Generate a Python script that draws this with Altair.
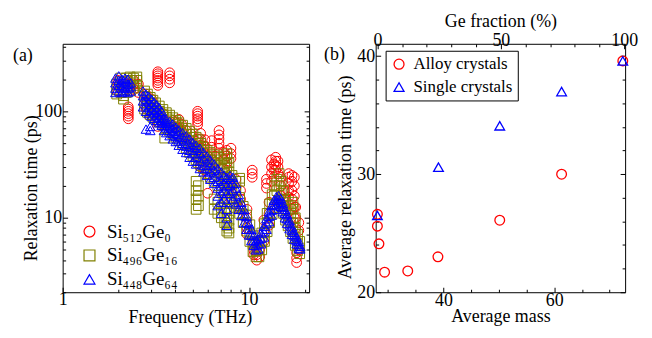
import altair as alt
import pandas as pd

FONT = "Liberation Serif"

# ---------------- Panel (a): relaxation time vs frequency ----------------
series_names = ["Si₅₁₂Ge₀", "Si₄₉₆Ge₁₆", "Si₄₄₈Ge₆₄"]
series_colors = ["#ff0000", "#808000", "#0000ff"]
series_shapes = ["circle", "square", "triangle-up"]

si512_freq = [1.98, 2.1, 2.25, 2.4, 2.55, 2.8, 3.0, 3.24, 3.45, 3.75, 4.0, 4.2, 4.35, 4.6, 4.9,
              5.3, 5.5, 5.8, 6.0, 6.3, 6.6, 6.9, 7.3, 7.6, 8.0, 8.5, 9.0, 9.75, 10.4, 10.6,
              11.0, 11.4, 12.0, 12.4, 12.8, 13.2, 13.6, 13.9, 14.3, 14.8, 15.5, 16.3, 17.0,
              17.5, 17.8, 18.0, 18.5]
si512_tau = [[155, 175, 195], [150, 170, 190], [85, 90, 95, 100, 105, 110, 160, 180],
             [160, 180, 195], [150, 165, 180], [105, 125, 145], [92, 110, 130],
             [72, 80, 87, 175, 185, 195, 205, 215, 225, 235], [75, 85, 95],
             [70, 80, 185, 200, 215, 230], [62, 72, 80], [58, 70, 78, 84], [55, 65, 75],
             [48, 57, 66], [44, 52, 61], [45, 55, 75, 80, 85, 90, 95, 100],
             [30, 36, 42, 48, 55, 62], [28, 34, 40, 47, 54], [17, 26, 32, 38],
             [35, 40, 46, 53], [28, 33, 38], [40, 45, 50, 55, 60, 66], [24, 29, 35, 41],
             [24, 28, 33, 38, 43], [15, 20, 36, 40, 45], [15, 19, 23], [12, 15, 18],
             [7, 8, 10, 12], [24, 26, 28], [4.5, 5, 5.8], [4, 4.5, 5.2], [4.3, 5, 6],
             [6, 7.5, 9.5], [19, 21, 23], [8.5, 11, 14], [22, 26, 30, 35], [24, 28, 32],
             [28, 31, 34, 37], [26, 30, 34], [16, 20, 24], [12, 15, 18],
             [15.6, 18, 21, 24, 26], [12, 15, 18, 22, 25], [10, 12.6, 16, 20, 24],
             [8, 10, 12.6], [3.8, 4.2, 4.7], [5, 7.6, 9]]

si496_freq = [1.95, 2.05, 2.12, 2.2, 2.3, 2.4, 2.5, 2.75, 2.85, 2.95, 3.05, 3.15, 3.3, 3.45,
              3.53, 3.6, 3.75, 3.9, 4.05, 4.2, 4.4, 4.6, 4.8, 5.0, 5.2, 5.35, 5.5, 5.7, 5.95,
              6.2, 6.5, 6.8, 7.1, 7.4, 7.6, 7.8, 8.1, 8.5, 8.9, 9.3, 9.7, 10.1, 10.5, 10.9,
              11.3, 11.7, 12.1, 12.5, 12.9, 13.3, 13.7, 14.1, 14.5, 14.9, 15.3, 15.7, 16.2,
              16.7, 17.2, 17.7, 18.2, 18.7]
si496_tau = [[145, 160, 180], [150, 170, 190, 205], [130, 140, 160], [150, 170, 190, 205],
             [155, 175, 195, 210], [165, 185, 205], [175, 195, 210], [105, 120, 138, 155],
             [98, 112, 128, 145], [93, 106, 120, 135], [88, 100, 113, 127],
             [84, 95, 107, 120], [79, 89, 100, 112], [74, 83, 93, 104], [56],
             [70, 78, 88, 97], [65, 74, 83, 92], [61, 70, 79, 87], [57, 66, 75, 82],
             [53, 62, 71, 78], [49, 57, 66, 74], [45, 53, 61, 69], [41, 49, 57, 65],
             [38, 45, 53, 61], [12, 15, 18, 22, 35, 42, 50, 57], [13, 16, 20, 33, 40, 47, 54],
             [31, 37, 43, 50], [29, 34, 40, 46], [26, 31, 37, 43], [24, 29, 35, 41],
             [12, 15, 22, 27, 33, 39], [11, 14, 20, 25, 31, 37], [10, 12.5, 18, 23, 29, 35],
             [9, 11, 14, 17, 21, 26, 32, 38], [7.5, 8.5, 10, 12, 15, 19, 24, 30, 36, 40],
             [7.2, 8, 9.5, 11, 14, 18, 22, 27, 33], [14, 17, 21, 25], [12.5, 15, 18, 22],
             [11, 13, 15.5, 22, 23.5], [9, 10.8, 12.8], [7.5, 9, 10.6], [6, 7.2, 8.6],
             [4.8, 5.7, 6.8], [4.3, 4.9, 5.7], [4.3, 5, 6], [5, 6, 7.2], [6, 7.2, 8.8],
             [7.4, 9, 11], [9, 11, 13.5], [10.8, 13.5, 16.5], [12.5, 16, 20],
             [13.5, 18, 23], [14.5, 20, 26], [13, 17, 22], [11, 14, 18], [9.5, 12, 15],
             [8.4, 10.5, 13], [7.4, 9, 11, 13], [6.4, 7.5, 9, 12, 14], [5.5, 6.5, 8, 10],
             [4.9, 5.7, 7], [4.6, 5.2, 6]]

si448_freq = [1.92, 2.0, 2.08, 2.16, 2.24, 2.32, 2.7, 2.8, 2.9, 2.95, 3.0, 3.1, 3.2, 3.3,
              3.4, 3.5, 3.6, 3.75, 3.9, 4.05, 4.2, 4.4, 4.6, 4.8, 5.0, 5.2, 5.45, 5.7, 5.95,
              6.2, 6.5, 6.8, 7.1, 7.35, 7.6, 7.9, 8.2, 8.5, 8.8, 9.1, 9.4, 9.7, 10.0, 10.3,
              10.6, 10.9, 11.2, 11.6, 12.0, 12.4, 12.8, 13.2, 13.6, 14.0, 14.4, 14.8, 15.2,
              15.6, 16.0, 16.5, 17.0, 17.5, 18.0, 18.5, 18.8]
si448_tau = [[150, 165, 185, 205], [155, 175, 195, 215], [150, 165, 185, 200],
             [155, 170, 190, 205], [150, 165, 180, 200], [155, 170, 185],
             [110, 125, 140, 155], [100, 115, 130, 145, 68], [95, 108, 122, 138], [66, 72],
             [90, 102, 116, 130], [86, 97, 110, 122], [82, 92, 104, 115], [78, 87, 97, 108],
             [74, 82, 91, 100, 78], [66, 73, 80, 87], [63, 70, 77, 84], [59, 66, 73, 80],
             [55, 62, 69, 76], [52, 58, 65, 71], [48, 54, 61, 67], [44, 50, 57, 63],
             [41, 47, 53, 59], [37, 43, 49, 55], [34, 40, 46, 51], [32, 37, 43, 48],
             [29, 34, 40, 45], [27, 31, 36, 41], [25, 29, 33, 38], [23, 27, 31, 35],
             [21, 24, 28, 32], [13, 16, 19, 22, 26, 29], [11, 14, 17, 20, 23, 27],
             [15, 18, 21, 25], [8.5, 10, 12, 14, 17, 20, 24], [17, 20, 23, 25],
             [15, 18, 21, 24], [13.5, 16, 19, 21], [12, 14, 16.5], [10.5, 12, 14],
             [9, 10.5, 12], [7.8, 9, 10.3], [6.9, 7.8, 8.8], [6.1, 6.9, 7.8], [5.5, 6.1, 6.8],
             [5, 5.5, 6.1], [5.1, 5.7, 6.3], [5.7, 6.4, 7.2], [6.6, 7.4, 8.3],
             [7.8, 8.8, 9.8], [9.2, 10.3, 11.4], [10.6, 11.8, 13], [12, 13.3, 14.6],
             [13.2, 14.5, 15.8], [13.8, 15, 16.2], [12.8, 14, 15.2], [11.4, 12.5, 13.6],
             [10, 11, 12], [8.9, 9.8, 10.7], [7.9, 8.6, 9.4], [7, 7.6, 8.2], [6.3, 6.8, 7.3],
             [5.7, 6.1, 6.6], [5.2, 5.6, 6], [5.1, 5.4]]

freq_domain = [1, 21]
tau_domain = [2, 430]
freq_major = [1, 10]
freq_minor = [2, 3, 4, 5, 6, 7, 8, 9, 20]
tau_major = [10, 100]
tau_minor = [2, 3, 4, 5, 6, 7, 8, 9, 20, 30, 40, 50, 60, 70, 80, 90, 200, 300, 400]

# ---------------- Panel (b): average relaxation time vs mass ----------------
alloy_mass = [28.07, 28.07, 28.35, 29.37, 33.55, 39.0, 50.16, 61.33, 72.38]
alloy_tau = [26.6, 25.6, 24.1, 21.7, 21.8, 23.0, 26.1, 30.0, 39.6]
single_mass = [28.07, 39.1, 50.16, 61.33, 72.38]
single_tau = [26.5, 30.6, 34.1, 37.0, 39.6]
group_names = ["Alloy crystals", "Single crystals"]

mass_domain = [27.76, 72.8]
avg_domain = [20, 41.05]
mass_major = [40, 60]
mass_minor = [30, 35, 45, 50, 55, 65, 70]
avg_major = [20, 30, 40]
avg_minor = [22, 24, 26, 28, 32, 34, 36, 38]
SI_MASS, GE_MASS = 28.0855, 72.63
ge_major = [0, 50, 100]
ge_minor = [10, 20, 30, 40, 60, 70, 80, 90]
ge_domain = [(m - SI_MASS) / (GE_MASS - SI_MASS) * 100 for m in mass_domain]

# ---------------- build tables ----------------
rows = []
for name, fr, ta in [(series_names[0], si512_freq, si512_tau),
                     (series_names[1], si496_freq, si496_tau),
                     (series_names[2], si448_freq, si448_tau)]:
    for f, taus in zip(fr, ta):
        for t in taus:
            rows.append({"series": name, "freq": f, "tau": t})
dfa = pd.DataFrame(rows)
dfa["idx"] = range(len(dfa))

rows = []
for m, t in zip(alloy_mass, alloy_tau):
    rows.append({"group": group_names[0], "mass": m, "tau": t})
for m, t in zip(single_mass, single_tau):
    rows.append({"group": group_names[1], "mass": m, "tau": t})
dfb = pd.DataFrame(rows)
dfb["idx"] = range(len(dfb))


def axis(orient, values, size, labels=False, title=None, lp=1, tp=0, **extra):
    return alt.Axis(orient=orient, values=values, tickSize=size, offset=-size,
                    domain=False, grid=False, labels=labels, ticks=True,
                    tickColor="black", tickWidth=1, format="d",
                    labelFont=FONT, labelFontSize=18, labelColor="black", labelPadding=lp,
                    labelFlush=False, labelOverlap=False,
                    title=title, titleFont=FONT, titleFontSize=18,
                    titleFontWeight="normal", titleColor="black", titlePadding=tp, **extra)


MAJ, MIN = 5, 3

# ---------------- left panel ----------------
fx = alt.Scale(type="log", domain=freq_domain, nice=False)
fy = alt.Scale(type="log", domain=tau_domain, nice=False)

a_points = alt.Chart(dfa).mark_point(filled=False, size=95, strokeWidth=1, opacity=1).encode(
    x=alt.X("freq:Q", scale=fx, axis=axis("bottom", freq_major, MAJ, True, "Frequency (THz)",
                                          lp=-2, tp=0, titleX=128)),
    y=alt.Y("tau:Q", scale=fy, axis=axis("left", tau_major, MAJ, True, "Relaxation time (ps)",
                                         lp=1, tp=-6, titleY=145)),
    color=alt.Color("series:N", scale=alt.Scale(domain=series_names, range=series_colors),
                    legend=alt.Legend(title=None, orient="none", legendX=17.5, legendY=179.5,
                                      padding=0, rowPadding=4, labelOffset=8,
                                      labelFont=FONT, labelFontSize=19, labelColor="black",
                                      symbolSize=121, symbolStrokeWidth=1.2)),
    shape=alt.Shape("series:N", scale=alt.Scale(domain=series_names, range=series_shapes)),
    order=alt.Order("idx:Q"),
)
a_minor = alt.Chart(dfa).mark_point(opacity=0).encode(
    x=alt.X("freq:Q", scale=fx, axis=axis("bottom", freq_minor, MIN)),
    y=alt.Y("tau:Q", scale=fy, axis=axis("left", tau_minor, MIN)),
)
a_mirror = alt.Chart(dfa).mark_point(opacity=0).encode(
    x=alt.X("freq:Q", scale=fx, axis=None),
    y=alt.Y("tau:Q", scale=fy, axis=axis("right", tau_major, MAJ)),
)
a_mirror_minor = alt.Chart(dfa).mark_point(opacity=0).encode(
    x=alt.X("freq:Q", scale=fx, axis=None),
    y=alt.Y("tau:Q", scale=fy, axis=axis("right", tau_minor, MIN)),
)
a_label = alt.Chart(pd.DataFrame({"t": ["(a)"]})).mark_text(
    align="left", baseline="middle", font=FONT, fontSize=18, color="black").encode(
    text="t:N", x=alt.value(-50), y=alt.value(12))

left = alt.layer(a_points, a_minor, a_mirror, a_mirror_minor, a_label).resolve_scale(
    x="independent", y="independent").resolve_axis(
    x="independent", y="independent").properties(width=248, height=250)

# ---------------- right panel ----------------
mx = alt.Scale(domain=mass_domain, nice=False, zero=False)
my = alt.Scale(domain=avg_domain, nice=False, zero=False)
gx = alt.Scale(domain=ge_domain, nice=False, zero=False)

b_points = alt.Chart(dfb).mark_point(filled=False, size=95, strokeWidth=1.3, opacity=1).encode(
    x=alt.X("mass:Q", scale=mx, axis=axis("bottom", mass_major, MAJ, True, "Average mass", lp=-1, tp=-2)),
    y=alt.Y("tau:Q", scale=my, axis=axis("left", avg_major, MAJ, True, "Average relaxation time (ps)",
                                         lp=1, tp=2, titleY=134)),
    color=alt.Color("group:N", scale=alt.Scale(domain=group_names, range=["#ff0000", "#0000ff"]),
                    legend=alt.Legend(title=None, orient="none", legendX=10, legendY=7,
                                      padding=5, rowPadding=5, labelOffset=6,
                                      strokeColor="black", fillColor="white",
                                      labelFont=FONT, labelFontSize=17, labelColor="black",
                                      symbolSize=100, symbolStrokeWidth=1.3)),
    shape=alt.Shape("group:N", scale=alt.Scale(domain=group_names, range=["circle", "triangle-up"])),
    order=alt.Order("idx:Q"),
)
b_minor = alt.Chart(dfb).mark_point(opacity=0).encode(
    x=alt.X("mass:Q", scale=mx, axis=axis("bottom", mass_minor, MIN)),
    y=alt.Y("tau:Q", scale=my, axis=axis("left", avg_minor, MIN)),
)
b_mirror = alt.Chart(dfb).mark_point(opacity=0).encode(
    x=alt.X("mass:Q", scale=mx, axis=None),
    y=alt.Y("tau:Q", scale=my, axis=axis("right", avg_major, MAJ)),
)
b_mirror_minor = alt.Chart(dfb).mark_point(opacity=0).encode(
    x=alt.X("mass:Q", scale=mx, axis=None),
    y=alt.Y("tau:Q", scale=my, axis=axis("right", avg_minor, MIN)),
)
dfg = pd.DataFrame({"ge": ge_major})
b_top = alt.Chart(dfg).mark_point(opacity=0).encode(
    x=alt.X("ge:Q", scale=gx, axis=axis("top", ge_major, MAJ, True, "Ge fraction (%)", lp=-6, tp=1)),
)
b_top_minor = alt.Chart(dfg).mark_point(opacity=0).encode(
    x=alt.X("ge:Q", scale=gx, axis=axis("top", ge_minor, MIN)),
)
b_label = alt.Chart(pd.DataFrame({"t": ["(b)"]})).mark_text(
    align="left", baseline="middle", font=FONT, fontSize=18, color="black").encode(
    text="t:N", x=alt.value(-52), y=alt.value(11))

right = alt.layer(b_points, b_minor, b_mirror, b_mirror_minor, b_top, b_top_minor, b_label).resolve_scale(
    x="independent", y="independent").resolve_axis(
    x="independent", y="independent").properties(width=251, height=250)

chart = alt.hconcat(left, right, spacing=13).resolve_scale(
    color="independent", shape="independent").resolve_legend(
    color="independent", shape="independent").configure_view(
    stroke="black", strokeWidth=1).properties(
    padding={"left": 4, "top": 3, "right": 5, "bottom": 5})

chart.save("out.html", embed_options={"renderer": "svg", "actions": False})
